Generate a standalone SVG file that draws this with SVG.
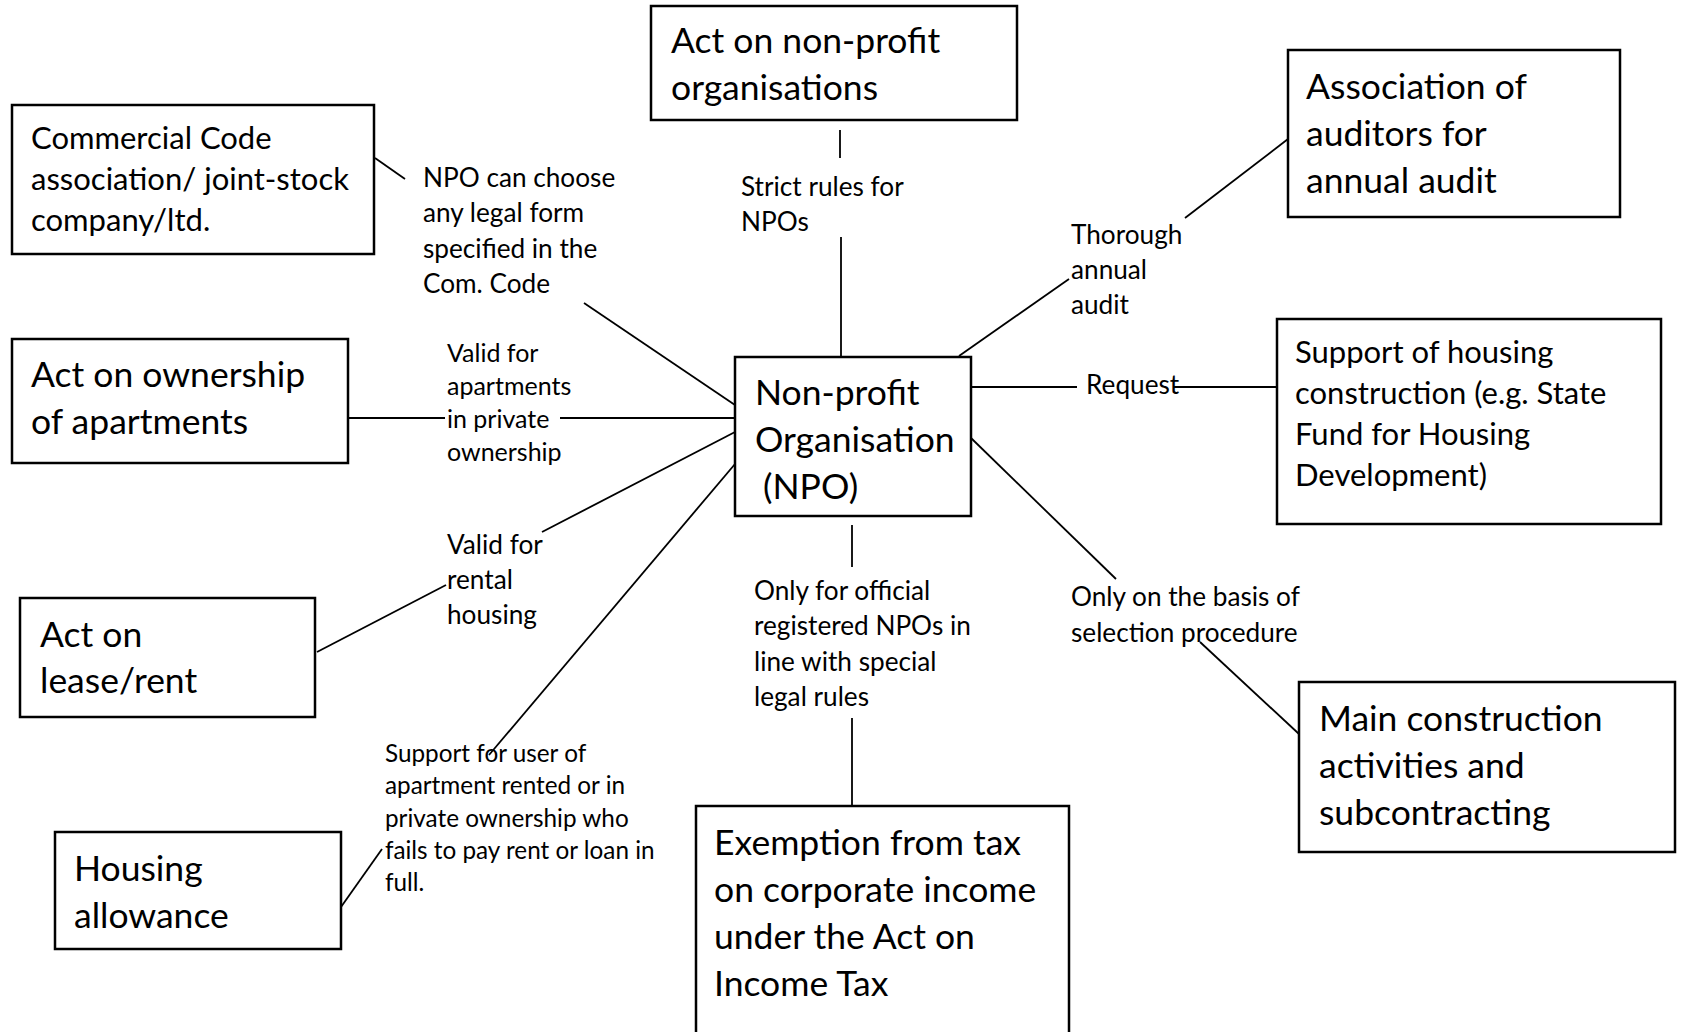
<svg xmlns="http://www.w3.org/2000/svg" width="1681" height="1032" viewBox="0 0 1681 1032">
<style>
.box{fill:#fff;stroke:#000;stroke-width:2.5}
.ln{stroke:#000;stroke-width:1.8;fill:none}
text{font-family:Lato,"Open Sans",sans-serif;fill:#000}
.big{font-size:35.5px}
.mid{font-size:31px}
.lab{font-size:26.2px}
.sm{font-size:25px}
.xs{font-size:24.3px}
</style>
<rect width="1681" height="1032" fill="#fff"/>
<g id="connectors">
<line class="ln" x1="375" y1="158" x2="405" y2="179"/>
<line class="ln" x1="584" y1="303" x2="735" y2="405"/>
<line class="ln" x1="840" y1="130" x2="840" y2="158"/>
<line class="ln" x1="841" y1="237" x2="841" y2="356"/>
<line class="ln" x1="1288" y1="139" x2="1185" y2="218"/>
<line class="ln" x1="1069" y1="279" x2="959" y2="356"/>
<line class="ln" x1="971" y1="387" x2="1077" y2="387"/>
<line class="ln" x1="1174" y1="387" x2="1277" y2="387"/>
<line class="ln" x1="349" y1="418" x2="445" y2="418"/>
<line class="ln" x1="560" y1="418" x2="735" y2="418"/>
<line class="ln" x1="317" y1="652" x2="446" y2="585"/>
<line class="ln" x1="542" y1="532" x2="735" y2="432"/>
<line class="ln" x1="341" y1="907" x2="382" y2="849"/>
<line class="ln" x1="489" y1="755" x2="735" y2="464"/>
<line class="ln" x1="852" y1="525" x2="852" y2="567"/>
<line class="ln" x1="852" y1="718" x2="852" y2="806"/>
<line class="ln" x1="971" y1="438" x2="1116" y2="579"/>
<line class="ln" x1="1200" y1="642" x2="1299" y2="734"/>
</g>
<g id="commercial-code">
<rect class="box" x="12" y="105" width="362" height="149"/>
<text class="mid"><tspan x="31" y="149">Commercial Code</tspan><tspan x="31" y="190">association/ joint-stock</tspan><tspan x="31" y="231">company/ltd.</tspan></text>
</g>
<g id="act-npo">
<rect class="box" x="651" y="6" width="366" height="114"/>
<text class="big"><tspan x="671" y="53">Act on non-profit</tspan><tspan x="671" y="100">organisations</tspan></text>
</g>
<g id="auditors">
<rect class="box" x="1288" y="50" width="332" height="167"/>
<text class="big"><tspan x="1306" y="99">Association of</tspan><tspan x="1306" y="146">auditors for</tspan><tspan x="1306" y="193">annual audit</tspan></text>
</g>
<g id="act-ownership">
<rect class="box" x="12" y="339" width="336" height="124"/>
<text class="big"><tspan x="31" y="387">Act on ownership</tspan><tspan x="31" y="434">of apartments</tspan></text>
</g>
<g id="npo">
<rect class="box" x="735" y="357" width="236" height="159"/>
<text class="big"><tspan x="755" y="405">Non-profit</tspan><tspan x="755" y="452">Organisation</tspan><tspan x="763" y="499">(NPO)</tspan></text>
</g>
<g id="housing-support">
<rect class="box" x="1277" y="319" width="384" height="205"/>
<text class="mid"><tspan x="1295" y="363">Support of housing</tspan><tspan x="1295" y="404">construction (e.g. State</tspan><tspan x="1295" y="445">Fund for Housing</tspan><tspan x="1295" y="486">Development)</tspan></text>
</g>
<g id="act-lease">
<rect class="box" x="20" y="598" width="295" height="119"/>
<text class="big"><tspan x="40" y="647">Act on</tspan><tspan x="40" y="693">lease/rent</tspan></text>
</g>
<g id="housing-allowance">
<rect class="box" x="55" y="832" width="286" height="117"/>
<text class="big"><tspan x="74" y="881">Housing</tspan><tspan x="74" y="928">allowance</tspan></text>
</g>
<g id="tax-exemption">
<rect class="box" x="696" y="806" width="373" height="240"/>
<text class="big"><tspan x="714" y="855">Exemption from tax</tspan><tspan x="714" y="902">on corporate income</tspan><tspan x="714" y="949">under the Act on</tspan><tspan x="714" y="996">Income Tax</tspan></text>
</g>
<g id="main-construction">
<rect class="box" x="1299" y="682" width="376" height="170"/>
<text class="big"><tspan x="1319" y="731">Main construction</tspan><tspan x="1319" y="778">activities and</tspan><tspan x="1319" y="825">subcontracting</tspan></text>
</g>
<g id="labels">
<text class="lab"><tspan x="423" y="187">NPO can choose</tspan><tspan x="423" y="222">any legal form</tspan><tspan x="423" y="258">specified in the</tspan><tspan x="423" y="293">Com. Code</tspan></text>
<text class="lab"><tspan x="741" y="196">Strict rules for</tspan><tspan x="741" y="231">NPOs</tspan></text>
<text class="lab"><tspan x="1071" y="244">Thorough</tspan><tspan x="1071" y="279">annual</tspan><tspan x="1071" y="314">audit</tspan></text>
<text class="lab"><tspan x="1086" y="394">Request</tspan></text>
<text class="sm"><tspan x="447" y="362">Valid for</tspan><tspan x="447" y="395">apartments</tspan><tspan x="447" y="428">in private</tspan><tspan x="447" y="461">ownership</tspan></text>
<text class="lab"><tspan x="447" y="554">Valid for</tspan><tspan x="447" y="589">rental</tspan><tspan x="447" y="624">housing</tspan></text>
<text class="xs"><tspan x="385" y="762">Support for user of</tspan><tspan x="385" y="794">apartment rented or in</tspan><tspan x="385" y="827">private ownership who</tspan><tspan x="385" y="859">fails to pay rent or loan in</tspan><tspan x="385" y="891">full.</tspan></text>
<text class="lab"><tspan x="754" y="600">Only for official</tspan><tspan x="754" y="635">registered NPOs in</tspan><tspan x="754" y="671">line with special</tspan><tspan x="754" y="706">legal rules</tspan></text>
<text class="lab"><tspan x="1071" y="606">Only on the basis of</tspan><tspan x="1071" y="642">selection procedure</tspan></text>
</g>
</svg>
